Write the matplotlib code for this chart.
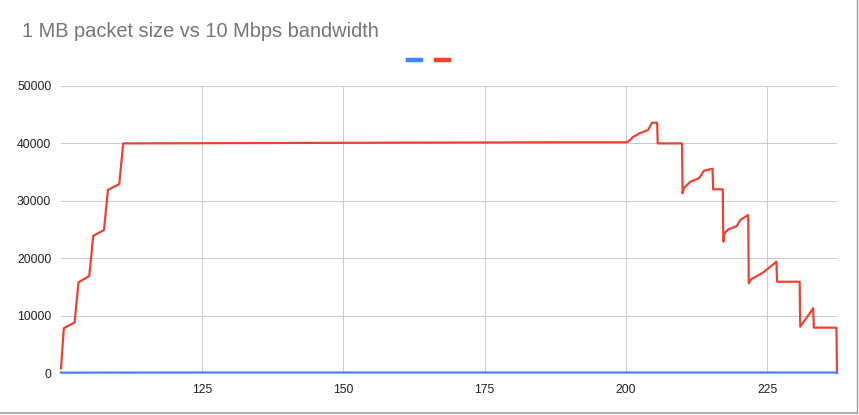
import matplotlib
matplotlib.use("Agg")
import matplotlib.pyplot as plt
from matplotlib.lines import Line2D

plt.rcParams['font.family'] = ['Liberation Sans', 'DejaVu Sans']

title = "1 MB packet size vs 10 Mbps bandwidth"

red_x = [100.1, 100.6, 102.5, 103.2, 105.1, 105.8, 107.7, 108.4, 110.4, 111.1,
         130, 150, 170, 190, 200.1, 200.6, 201.3, 202.4, 203.9, 204.6, 205.5,
         205.6, 209.9, 210.0, 210.2, 211.4, 212.9, 213.8, 215.3, 215.4, 217.1,
         217.2, 217.4, 218.1, 219.6, 220.2, 221.6, 221.7, 222.1, 224.2, 226.6,
         226.7, 230.7, 230.8, 233.1, 233.2, 237.2, 237.3]
red_y = [800, 7800, 8800, 15800, 16900, 23900, 24900, 31900, 32900, 40000,
         40050, 40100, 40150, 40200, 40200, 40470, 41170, 41760, 42330, 43600, 43600,
         40000, 40000, 31300, 32170, 33330, 33920, 35240, 35590, 32000, 32000,
         22900, 24300, 25030, 25610, 26650, 27530, 15630, 16320, 17470, 19390,
         15900, 15900, 8070, 11270, 7900, 7900, 0]

blue_x = [100.1, 125, 150, 175, 200, 225, 237.3]
blue_y = [60, 80, 80, 80, 80, 80, 80]

x_ticks = [125, 150, 175, 200, 225]
y_ticks = [0, 10000, 20000, 30000, 40000, 50000]

RED = "#EA4335"
BLUE = "#4285F4"

fig = plt.figure(figsize=(8.59, 4.15), dpi=100)
ax = fig.add_axes([61/859, 1-373/415, (837-61)/859, (373-86)/415])

ax.set_xlim(min(red_x), max(red_x))
ax.set_ylim(0, 50000)
ax.set_xticks(x_ticks)
ax.set_yticks(y_ticks)
ax.grid(True, color="#cccccc", linewidth=0.75)
ax.set_axisbelow(True)
for s in ax.spines.values():
    s.set_visible(False)
ax.tick_params(length=0, labelsize=8.7, colors="#222222", pad=7)
ax.tick_params(axis='x', pad=8)

ax.axhline(0, color="#333333", linewidth=1.0, zorder=2)
ax.plot(red_x, red_y, color=RED, linewidth=1.6, zorder=3, clip_on=False)
ax.plot(blue_x, blue_y, color=BLUE, linewidth=1.6, zorder=4, clip_on=False)

fig.text(22/859, 1-31.5/415, title, fontsize=14.4, color="#757575", va="center", ha="left")

# legend markers (no labels)
ly = 1 - 60.5/415
fig.add_artist(Line2D([408/859, 421/859], [ly, ly], color=BLUE, linewidth=3.2))
fig.add_artist(Line2D([436/859, 449/859], [ly, ly], color=RED, linewidth=3.2))

# spreadsheet border lines
fig.add_artist(Line2D([0, 857/859], [1-413/415, 1-413/415], color="#9e9e9e", linewidth=1.2))
fig.add_artist(Line2D([857/859, 857/859], [1-413/415, 1], color="#9e9e9e", linewidth=1.0))

fig.savefig("out.png", dpi=100)
